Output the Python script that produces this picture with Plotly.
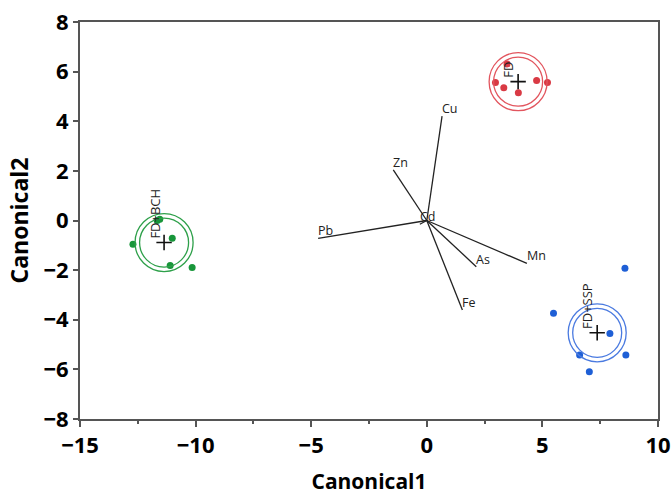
import numpy as np
import plotly.graph_objects as go

# Group scores (Canonical1, Canonical2)
fd_x = [3.47, 2.97, 3.33, 3.96, 4.75, 5.22]
fd_y = [6.31, 5.56, 5.35, 5.15, 5.64, 5.56]
bch_x = [-11.66, -11.55, -12.71, -11.01, -11.10, -10.15]
bch_y = [0.00, 0.05, -0.96, -0.72, -1.81, -1.89]
ssp_x = [8.57, 5.48, 7.92, 6.61, 8.61, 7.03]
ssp_y = [-1.92, -3.74, -4.55, -5.42, -5.42, -6.10]
groups = ["FD", "FD+BCH", "FD+SSP"]

# Biplot rays
elements = ["Cu", "Zn", "Cd", "Pb", "As", "Mn", "Fe"]
ray_x = [0.66, -1.45, -0.30, -4.70, 2.14, 4.33, 1.54]
ray_y = [4.21, 2.04, -0.15, -0.72, -1.86, -1.73, -3.61]

x_ticks = [-15, -10, -5, 0, 5, 10]
y_ticks = [-8, -6, -4, -2, 0, 2, 4, 6, 8]

pt_colors = ["#d93a44", "#18963a", "#1e5fd6"]
ring_colors = ["#e2555e", "#2ea04a", "#4a7ae0"]

fig = go.Figure()

# rays
for name, rx, ry in zip(elements, ray_x, ray_y):
    fig.add_trace(go.Scatter(x=[0, rx], y=[0, ry], mode="lines",
                             line=dict(color="#222222", width=1.3),
                             hoverinfo="skip", showlegend=False))
    fig.add_annotation(x=rx, y=ry, text=name, showarrow=False,
                       xanchor="left", yanchor="bottom", xshift=-2, yshift=-3,
                       font=dict(family="Open Sans", size=12.5, color="#222222"))

data = [(fd_x, fd_y), (bch_x, bch_y), (ssp_x, ssp_y)]
for (gx, gy), g, pc, rc in zip(data, groups, pt_colors, ring_colors):
    cx, cy = float(np.mean(gx)), float(np.mean(gy))
    fig.add_trace(go.Scatter(x=gx, y=gy, mode="markers",
                             marker=dict(color=pc, size=7),
                             showlegend=False, name=g))
    for r in (24.5, 29):
        fig.add_shape(type="circle", xref="x", yref="y",
                      xsizemode="pixel", ysizemode="pixel",
                      xanchor=cx, yanchor=cy,
                      x0=-r, x1=r, y0=-r, y1=r,
                      line=dict(color=rc, width=1.3))
    fig.add_trace(go.Scatter(x=[cx], y=[cy], mode="markers",
                             marker=dict(symbol="cross-thin", size=11,
                                         line=dict(color="#111111", width=1.6)),
                             showlegend=False, hoverinfo="skip"))
    fig.add_annotation(x=cx, y=cy, text=g, showarrow=False, textangle=-90,
                       xanchor="right", yanchor="bottom", xshift=1, yshift=2,
                       font=dict(family="Open Sans", size=13, color="#222222"))

axis_common = dict(showline=True, linecolor="#555555", linewidth=2, mirror=True,
                   showgrid=False, zeroline=False, ticks="outside", automargin=False,
                   tickcolor="#555555", tickwidth=1.5, ticklabeloverflow="allow",
                   tickfont=dict(family="Open Sans", size=22, color="#000000", weight="bold"))

fig.update_layout(
    width=672, height=495,
    margin=dict(l=80, r=14, t=22, b=76),
    plot_bgcolor="white", paper_bgcolor="white",
    xaxis=dict(range=[-15, 10], tickvals=x_ticks, ticklen=6,
               minor=dict(ticks="outside", dtick=2.5, ticklen=3, tickcolor="#555555", tickwidth=1.5),
               title=dict(text="Canonical1", standoff=18,
                          font=dict(family="Open Sans", size=21, color="#000000", weight="bold")),
               **axis_common),
    yaxis=dict(range=[-8, 8], tickvals=y_ticks, ticklen=5,
               title=dict(text="Canonical2", standoff=8,
                          font=dict(family="Open Sans", size=23, color="#000000", weight="bold")),
               **axis_common),
)

fig.write_html("out.html", config={"displayModeBar": False},
               post_script="document.body.style.margin='0';document.body.style.overflow='hidden';")
